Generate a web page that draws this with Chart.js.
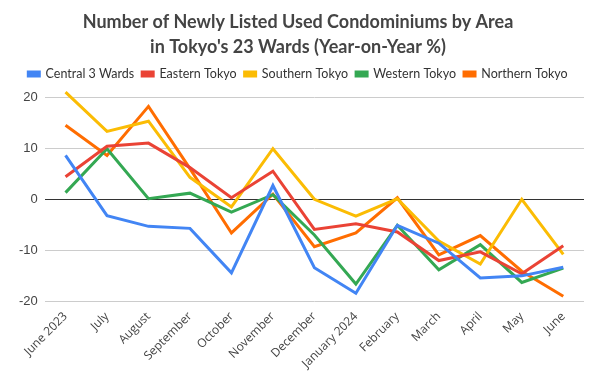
<!DOCTYPE html>
<html>
<head>
<meta charset="utf-8">
<script src="https://cdn.jsdelivr.net/npm/chart.js@4.4.1/dist/chart.umd.min.js"></script>
<style>
  html, body { margin: 0; padding: 0; background: #fff; }
  #wrap { width: 600px; height: 371px; }
</style>
</head>
<body>
<div id="wrap"><canvas id="areaChart" width="600" height="371"></canvas></div>
<script>
// Chart data
const months = ['June 2023', 'July', 'August', 'September', 'October', 'November', 'December',
    'January 2024', 'February', 'March', 'April', 'May', 'June'];
const central3 = [8.6, -3.2, -5.3, -5.7, -14.4, 2.7, -13.4, -18.4, -5.1, -8.6, -15.4, -15.0, -13.3];
const eastern = [4.4, 10.4, 11.0, 6.2, 0.3, 5.5, -5.9, -4.8, -6.4, -12.0, -10.3, -14.6, -9.1];
const southern = [21.0, 13.3, 15.3, 4.3, -1.5, 9.9, 0.0, -3.3, 0.1, -8.2, -12.7, 0.0, -10.8];
const western = [1.3, 9.9, 0.1, 1.2, -2.5, 0.9, -7.0, -16.6, -5.1, -13.8, -8.9, -16.3, -13.5];
const northern = [14.5, 8.6, 18.2, 6.0, -6.6, 1.0, -9.3, -6.6, 0.3, -10.9, -7.1, -14.1, -19.0];

function series(label, data, color) {
    return {
        label: label,
        data: data,
        borderColor: color,
        backgroundColor: color,
        borderWidth: 3,
        pointRadius: 0,
        tension: 0,
        clip: false
    };
}

// extra room under the legend
const legendGap = {
    id: 'legendGap',
    beforeInit(chart) {
        const fit = chart.legend.fit;
        chart.legend.fit = function() {
            fit.bind(chart.legend)();
            this.height += 7;
        };
    }
};

const ctx = document.getElementById('areaChart');
new Chart(ctx, {
    type: 'line',
    data: {
        labels: months,
        datasets: [
            series('Central 3 Wards', central3, '#4285f4'),
            series('Eastern Tokyo', eastern, '#ea4335'),
            series('Southern Tokyo', southern, '#fbbc04'),
            series('Western Tokyo', western, '#34a853'),
            series('Northern Tokyo', northern, '#ff6d01')
        ]
    },
    plugins: [legendGap],
    options: {
        responsive: false,
        animation: false,
        layout: { padding: { left: 12, right: 16, top: 4, bottom: 0 } },
        plugins: {
            title: {
                display: true,
                text: ['Number of Newly Listed Used Condominiums by Area', "in Tokyo's 23 Wards (Year-on-Year %)"],
                color: '#444',
                font: { family: 'Lato', size: 18, weight: 'bold', lineHeight: 1.38 },
                padding: { top: 6, bottom: 0 }
            },
            legend: {
                position: 'top',
                labels: {
                    boxWidth: 11,
                    boxHeight: 4,
                    color: '#333',
                    padding: 8,
                    font: { family: 'Lato', size: 12.5 }
                }
            },
            tooltip: { enabled: false }
        },
        scales: {
            x: {
                offset: true,
                grid: { display: false },
                border: { display: false },
                ticks: {
                    color: '#444',
                    padding: 0,
                    font: { family: 'Open Sans', size: 12 },
                    maxRotation: 45,
                    minRotation: 45,
                    autoSkip: false
                }
            },
            y: {
                min: -20,
                max: 20,
                border: { display: false },
                grid: {
                    color: ctx => ctx.tick.value === 0 ? '#333' : '#ccc',
                    lineWidth: 1,
                    drawTicks: false
                },
                ticks: {
                    stepSize: 10,
                    padding: 7,
                    color: '#444',
                    font: { family: 'Liberation Sans', size: 13 }
                }
            }
        }
    }
});
</script>
</body>
</html>
